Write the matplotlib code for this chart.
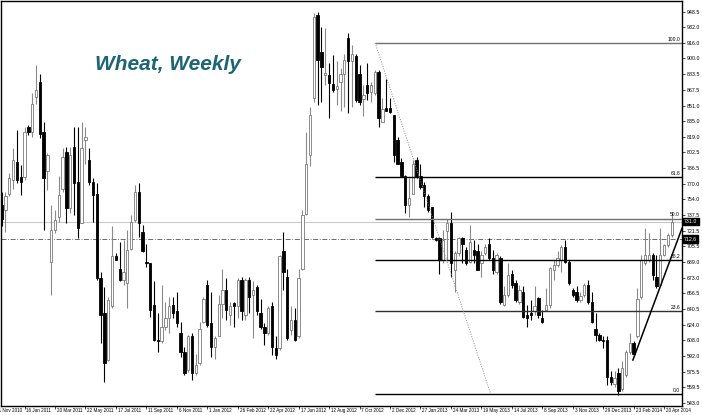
import matplotlib
matplotlib.use("Agg")
import matplotlib.pyplot as plt
import matplotlib.transforms as mtransforms
import numpy as np

plt.rcParams['font.family'] = ['Liberation Sans', 'DejaVu Sans']

# weekly wheat candles (first bar = week of 5 Dec 2010)
opens = [748, 743, 760, 774, 793, 777, 777, 829, 824, 860, 876, 824, 783, 689, 722, 736, 765, 803, 745, 808,
         772, 729, 815, 795, 772, 760, 672, 636, 588, 643, 695, 682, 670, 667, 703, 733, 762, 720, 689, 688,
         645, 608, 607, 622, 631, 645, 638, 615, 596, 577, 612, 574, 584, 627, 665, 626, 601, 612, 646, 660,
         634, 647, 643, 670, 634, 670, 655, 663, 636, 622, 615, 644, 600, 600, 700, 674, 619, 629, 612, 682,
         739, 800, 859, 945, 907, 883, 883, 873, 868, 876, 884, 921, 897, 902, 884, 858, 872, 865, 864, 886,
         834, 849, 849, 841, 815, 793, 778, 748, 760, 795, 778, 769, 757, 746, 714, 714, 691, 721, 729, 681,
         698, 714, 702, 689, 702, 700, 688, 698, 708, 693, 679, 693, 645, 655, 677, 667, 648, 658, 634, 636,
         638, 652, 631, 639, 645, 681, 686, 691, 705, 689, 660, 658, 650, 655, 665, 648, 620, 613, 608, 608,
         570, 563, 574, 558, 572, 596, 605, 612, 653, 688, 691, 696, 674, 665, 696, 707, 717]
highs = [762, 762, 781, 807, 826, 790, 829, 831, 864, 893, 884, 834, 802, 748, 743, 778, 807, 808, 808, 829,
         829, 834, 829, 807, 776, 771, 679, 663, 653, 726, 698, 710, 712, 722, 738, 769, 771, 727, 708, 688,
         669, 636, 665, 648, 653, 653, 658, 627, 601, 613, 615, 594, 627, 653, 670, 658, 612, 655, 682, 672,
         648, 648, 672, 674, 672, 674, 669, 665, 651, 626, 644, 648, 612, 696, 720, 682, 644, 641, 682, 743,
         824, 850, 947, 948, 933, 931, 895, 903, 897, 890, 905, 926, 914, 905, 893, 872, 895, 876, 888, 888,
         859, 879, 859, 841, 819, 797, 779, 776, 795, 798, 791, 772, 759, 746, 715, 715, 722, 734, 741, 700,
         715, 715, 705, 727, 712, 708, 700, 708, 714, 702, 698, 695, 664, 688, 681, 670, 665, 664, 645, 650,
         664, 653, 639, 662, 684, 691, 700, 707, 712, 691, 662, 664, 658, 667, 670, 658, 636, 615, 612, 612,
         576, 576, 579, 586, 598, 615, 607, 662, 696, 724, 719, 698, 696, 724, 708, 719, 741]
lows = [726, 720, 757, 765, 771, 758, 774, 821, 819, 853, 817, 722, 764, 655, 719, 731, 762, 729, 740, 738,
        714, 729, 791, 769, 731, 670, 605, 565, 586, 641, 691, 669, 665, 641, 701, 731, 715, 699, 684, 632,
        607, 596, 605, 619, 615, 631, 622, 591, 572, 575, 567, 572, 582, 626, 622, 591, 589, 612, 631, 629,
        624, 622, 631, 629, 629, 636, 610, 634, 620, 603, 613, 593, 589, 598, 660, 608, 613, 607, 610, 681,
        738, 788, 855, 852, 855, 872, 838, 865, 852, 845, 850, 843, 850, 855, 852, 840, 857, 855, 862, 829,
        834, 845, 843, 793, 791, 778, 740, 736, 759, 776, 765, 746, 741, 714, 711, 677, 688, 691, 674, 658,
        695, 688, 686, 688, 688, 681, 674, 696, 691, 677, 677, 646, 643, 653, 662, 648, 646, 631, 622, 629,
        634, 631, 626, 638, 641, 670, 684, 679, 688, 665, 653, 648, 648, 653, 646, 626, 607, 607, 600, 562,
        562, 560, 551, 555, 570, 594, 593, 610, 651, 686, 689, 670, 662, 664, 695, 705, 715]
closes = [734, 757, 776, 795, 774, 772, 824, 824, 853, 867, 822, 776, 800, 722, 733, 758, 798, 745, 800, 771,
          724, 807, 819, 772, 758, 672, 634, 584, 650, 695, 691, 670, 679, 701, 731, 762, 729, 700, 688, 639,
          608, 607, 622, 631, 643, 636, 626, 596, 574, 612, 574, 582, 620, 651, 624, 601, 610, 646, 660, 639,
          643, 643, 670, 638, 670, 653, 660, 638, 622, 615, 641, 601, 593, 695, 679, 610, 629, 608, 672, 738,
          791, 841, 943, 898, 891, 885, 874, 867, 871, 884, 898, 897, 905, 857, 855, 862, 864, 872, 886, 838,
          848, 845, 844, 800, 791, 778, 748, 755, 791, 778, 767, 757, 743, 715, 712, 691, 712, 729, 688, 698,
          714, 708, 688, 710, 696, 681, 696, 705, 693, 681, 696, 648, 655, 676, 665, 650, 660, 632, 631, 634,
          643, 634, 627, 645, 683, 686, 693, 705, 689, 667, 655, 650, 654, 665, 648, 627, 613, 608, 607, 570,
          565, 569, 555, 579, 596, 605, 594, 651, 691, 696, 696, 676, 664, 696, 707, 717, 731]

date_labels = ["21 Nov 2010", "16 Jan 2011", "20 Mar 2011", "22 May 2011", "17 Jul 2011", "11 Sep 2011",
               "6 Nov 2011", "1 Jan 2012", "26 Feb 2012", "22 Apr 2012", "17 Jun 2012", "12 Aug 2012",
               "7 Oct 2012", "2 Dec 2012", "27 Jan 2013", "24 Mar 2013", "19 May 2013", "14 Jul 2013",
               "8 Sep 2013", "3 Nov 2013", "29 Dec 2013", "23 Feb 2014", "20 Apr 2014"]
date_bars = [-2 + 8 * i for i in range(len(date_labels))]

price_ticks = [948.5, 932.0, 916.0, 900.0, 883.5, 867.5, 851.0, 835.0, 819.0, 802.5, 786.5, 770.0, 754.0,
               737.5, 721.5, 705.5, 689.0, 673.0, 656.5, 640.5, 624.0, 608.0, 592.0, 575.5, 559.5, 543.0]

# fibonacci retracement drawn from the Oct 2012 high to the Jan 2014 low
fib_high, fib_low = 916.0, 552.0
fib_levels = [100.0, 61.8, 50.0, 38.2, 23.6, 0.0]
fib_colors = ['#707070', 'black', '#707070', 'black', '#303030', 'black']
fib_start = 98.1

last_price = closes[-1]
hline_price = 712.6
trend_dotted = ([98.1, 128.3], [916.0, 554.0])
trend_solid = ([165.8, 178.7], [587.5, 724.0])

fig = plt.figure(figsize=(7.02, 4.15), dpi=100)
ax = fig.add_axes([1 / 702, 9 / 415, 681 / 702, 404.5 / 415])

x = np.arange(len(opens))
o = np.array(opens, float)
c = np.array(closes, float)
up = c >= o

# wicks
ax.vlines(x[up], np.array(lows)[up], np.array(highs)[up], color='#8a8a8a', lw=0.8, zorder=2)
ax.vlines(x[~up], np.array(lows)[~up], np.array(highs)[~up], color='black', lw=0.8, zorder=2)
# bodies
body = np.maximum(np.abs(c - o), 0.8)
ax.bar(x[up], body[up], bottom=np.minimum(o, c)[up], width=0.62, color='white',
       edgecolor='#7a7a7a', linewidth=0.6, zorder=3)
ax.bar(x[~up], body[~up], bottom=np.minimum(o, c)[~up], width=0.62, color='black',
       edgecolor='black', linewidth=0.6, zorder=3)

xmin, xmax = -0.18, 178.7
ax.set_xlim(xmin, xmax)
ax.set_ylim(539.9, 958.9)

# price lines across the chart
ax.axhline(last_price, color='#c8c8c8', lw=0.8, zorder=1)
ax.axhline(hline_price, color='#555555', lw=0.6, ls=(0, (6, 2, 1, 2)), zorder=1)

# fib levels
for lvl, col in zip(fib_levels, fib_colors):
    y = fib_low + (fib_high - fib_low) * lvl / 100.0
    ax.hlines(y, fib_start, xmax, color=col, lw=1.0, zorder=4)
    ax.text(xmax - 0.5, y + 1.2, f"{lvl:.1f}", fontsize=3.6, ha='right', va='bottom', color='black')

ax.plot(*trend_dotted, color='#8a8a8a', lw=0.7, ls=(0, (1, 1.5)), zorder=4)
ax.plot(*trend_solid, color='black', lw=1.1, zorder=4)

# axes styling
for s in ax.spines.values():
    s.set_color('black')
    s.set_linewidth(1.0)
ax.yaxis.tick_right()
ax.set_yticks(price_ticks)
ax.set_yticklabels([f"{p:.1f}" for p in price_ticks])
ax.tick_params(axis='y', length=2, width=0.5, labelsize=3.8, pad=1.5)
ax.set_xticks([b for b in date_bars if xmin <= b <= xmax])
ax.set_xticklabels([])
ax.tick_params(axis='x', length=2, width=0.5)

trans = mtransforms.blended_transform_factory(ax.transData, ax.transAxes)
for b, lab in zip(date_bars, date_labels):
    # the first label runs off the left edge, as in the original terminal screenshot
    ax.text(b + 0.5, -0.011, lab, transform=trans, fontsize=3.3, ha='left', va='center', clip_on=False)

# current price boxes on the price scale
ytrans = mtransforms.blended_transform_factory(ax.transAxes, ax.transData)
for p in (last_price, hline_price):
    ax.text(1.003, p, f"{p:.1f}", transform=ytrans, fontsize=3.8, color='white', ha='left', va='center',
            bbox=dict(boxstyle='square,pad=0.25', fc='black', ec='black'), clip_on=False, zorder=6)

fig.text(95 / 702, 1 - 65 / 415, "Wheat, Weekly", fontsize=15, fontweight='bold', fontstyle='italic',
         color='#1b6574', ha='left', va='center')

fig.savefig("out.png", dpi=100)
